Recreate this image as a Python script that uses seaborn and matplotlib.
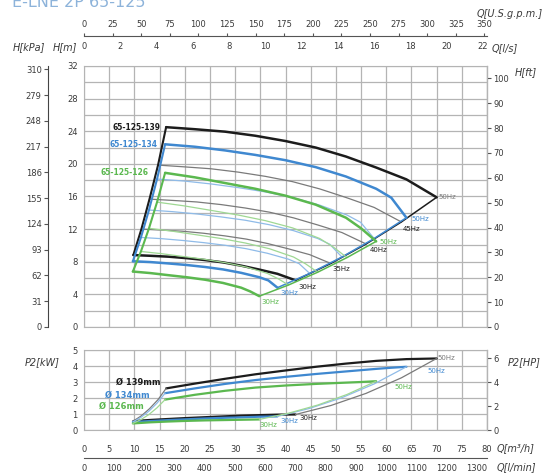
import matplotlib
matplotlib.use("Agg")
import matplotlib.pyplot as plt
from matplotlib.ticker import MultipleLocator
import seaborn as sns

speeds = ["50Hz", "45Hz", "40Hz", "35Hz", "30Hz"]

# H-Q curves, one row per speed (50, 45, 40, 35, 30 Hz), Q in m3/h, H in m
q139 = [[16.3, 22, 28, 34, 40, 46, 52, 58, 64, 70],
        [14.7, 19.8, 25.2, 30.6, 36, 41.4, 46.8, 52.2, 57.6, 63],
        [13.0, 17.6, 22.4, 27.2, 32, 36.8, 41.6, 46.4, 51.2, 56],
        [11.4, 15.4, 19.6, 23.8, 28, 32.2, 36.4, 40.6, 44.8, 49],
        [9.8, 13.2, 16.8, 20.4, 24, 27.6, 31.2, 34.8, 38.4, 42]]
h139 = [[24.5, 24.25, 23.95, 23.45, 22.8, 22.0, 20.9, 19.55, 18.1, 15.9],
        [19.85, 19.64, 19.40, 18.99, 18.47, 17.82, 16.93, 15.84, 14.66, 12.88],
        [15.68, 15.52, 15.33, 15.01, 14.59, 14.08, 13.38, 12.51, 11.58, 10.18],
        [12.01, 11.88, 11.74, 11.49, 11.17, 10.78, 10.24, 9.58, 8.87, 7.79],
        [8.82, 8.73, 8.62, 8.44, 8.21, 7.92, 7.52, 7.04, 6.52, 5.72]]

q134 = [[16.1, 22, 28, 34, 40, 46, 52, 58, 61, 64],
        [14.5, 19.8, 25.2, 30.6, 36, 41.4, 46.8, 52.2, 54.9, 57.6],
        [12.9, 17.6, 22.4, 27.2, 32, 36.8, 41.6, 46.4, 48.8, 51.2],
        [11.3, 15.4, 19.6, 23.8, 28, 32.2, 36.4, 40.6, 42.7, 44.8],
        [9.7, 13.2, 16.8, 20.4, 24, 27.6, 31.2, 34.8, 36.6, 38.4]]
h134 = [[22.4, 22.1, 21.65, 21.1, 20.45, 19.6, 18.45, 16.95, 15.85, 13.4],
        [18.14, 17.90, 17.54, 17.09, 16.56, 15.88, 14.94, 13.73, 12.84, 10.85],
        [14.34, 14.14, 13.86, 13.50, 13.09, 12.54, 11.81, 10.85, 10.14, 8.58],
        [10.98, 10.83, 10.61, 10.34, 10.02, 9.60, 9.04, 8.31, 7.77, 6.57],
        [8.06, 7.96, 7.79, 7.60, 7.36, 7.06, 6.64, 6.10, 5.71, 4.82]]

q126 = [[16.1, 22, 28, 34, 40, 46, 52, 55, 58],
        [14.5, 19.8, 25.2, 30.6, 36, 41.4, 46.8, 49.5, 52.2],
        [12.9, 17.6, 22.4, 27.2, 32, 36.8, 41.6, 44, 46.4],
        [11.3, 15.4, 19.6, 23.8, 28, 32.2, 36.4, 38.5, 40.6],
        [9.7, 13.2, 16.8, 20.4, 24, 27.6, 31.2, 33, 34.8]]
h126 = [[18.9, 18.35, 17.65, 16.95, 16.1, 15.0, 13.4, 12.1, 10.5],
        [15.31, 14.86, 14.30, 13.73, 13.04, 12.15, 10.85, 9.80, 8.51],
        [12.10, 11.74, 11.30, 10.85, 10.30, 9.60, 8.58, 7.74, 6.72],
        [9.26, 8.99, 8.65, 8.31, 7.89, 7.35, 6.57, 5.93, 5.15],
        [6.80, 6.61, 6.35, 6.10, 5.80, 5.40, 4.82, 4.36, 3.78]]

# P2 in kW at 50 Hz and 30 Hz (on the 50 Hz / 30 Hz Q rows above)
p139_50 = [2.6, 2.9, 3.2, 3.48, 3.72, 3.95, 4.15, 4.32, 4.43, 4.47]
p139_30 = [0.56, 0.63, 0.69, 0.75, 0.80, 0.85, 0.90, 0.93, 0.96, 0.97]
p134_50 = [2.3, 2.6, 2.88, 3.12, 3.32, 3.5, 3.66, 3.82, 3.89, 3.95]
p134_30 = [0.50, 0.56, 0.62, 0.67, 0.72, 0.76, 0.79, 0.83, 0.84, 0.85]
p126_50 = [1.9, 2.2, 2.45, 2.65, 2.78, 2.88, 2.96, 3.0, 3.05]
p126_30 = [0.41, 0.48, 0.53, 0.57, 0.60, 0.62, 0.64, 0.65, 0.66]
# P2 at min / max flow of each speed (50 -> 30 Hz)
p139_min = [2.6, 1.90, 1.33, 0.89, 0.56]
p139_max = [4.47, 3.26, 2.29, 1.53, 0.97]
p134_min = [2.3, 1.68, 1.18, 0.79, 0.50]
p134_max = [3.95, 2.88, 2.02, 1.35, 0.85]
p126_min = [1.9, 1.39, 0.97, 0.65, 0.41]
p126_max = [3.05, 2.22, 1.56, 1.05, 0.66]

BLACK, GREY = "#1c1c1c", "#7a7a7a"
BLUE, LBLUE = "#3f88d0", "#8fbbe8"
GREEN, LGREEN = "#5bb84f", "#9fd893"
TXT = "#3a3a3a"

sns.set_style("white")
plt.rcParams["font.family"] = ["DejaVu Sans"]

W, H = 557, 473
fig = plt.figure(figsize=(W / 100, H / 100), dpi=100)


def box(l, t, r, b):
    return [l / W, 1 - b / H, (r - l) / W, (b - t) / H]


def draw(axis, x, y, color, lw):
    sns.lineplot(x=x, y=y, ax=axis, color=color, lw=lw, sort=False,
                 estimator=None, legend=False)


ax = fig.add_axes(box(84, 66, 487, 327))
axp = fig.add_axes(box(84, 350, 487, 430))

pumps = [(q139, h139, p139_50, p139_30, p139_min, p139_max, BLACK, GREY),
         (q134, h134, p134_50, p134_30, p134_min, p134_max, BLUE, LBLUE),
         (q126, h126, p126_50, p126_30, p126_min, p126_max, GREEN, LGREEN)]

for q, h, p50, p30, pmin, pmax, dark, light in pumps:
    for i in range(len(speeds)):
        thick = i in (0, 4)
        draw(ax, q[i], h[i], dark if thick else light, 1.8 if thick else 0.9)
    qmin = [row[0] for row in q]
    qmax = [row[-1] for row in q]
    draw(ax, qmin, [row[0] for row in h], dark, 1.5)
    draw(ax, qmax, [row[-1] for row in h], dark, 1.1)
    draw(axp, q[0], p50, dark, 1.6)
    draw(axp, q[4], p30, dark, 1.6)
    draw(axp, qmin, pmin, light, 0.9)
    draw(axp, qmax, pmax, light, 0.9)

TICK = dict(labelsize=6, labelcolor=TXT, color="#555555", length=3, pad=1.5)

# ---- main H axes
for a in (ax, axp):
    a.set_xlim(0, 80)
    a.xaxis.set_major_locator(MultipleLocator(5))
    a.grid(True, which="both", color="#b4b4b4", lw=0.9)
    a.set_axisbelow(True)
    a.set_xlabel("")
    a.set_ylabel("")
    for s in a.spines.values():
        s.set_color("#b4b4b4")
    a.tick_params(**TICK)

ax.set_ylim(0, 32)
ax.yaxis.set_major_locator(MultipleLocator(4))
ax.yaxis.set_minor_locator(MultipleLocator(2))
ax.tick_params(axis="x", length=0, labelbottom=False)
ax.tick_params(axis="y", which="minor", length=0)

ft = ax.secondary_yaxis("right", functions=(lambda m: m / 0.3048, lambda f: f * 0.3048))
ft.set_yticks(range(0, 101, 10))
ft.tick_params(**TICK)
ft.spines["right"].set_color("#444444")

kpa = ax.secondary_yaxis(-36 / 403, functions=(lambda m: m * 9.81, lambda p: p / 9.81))
kpa.set_yticks(range(0, 311, 31))
kpa.tick_params(**TICK)
kpa.spines["left"].set_color("#444444")

# ---- power axes
axp.set_ylim(0, 5)
axp.yaxis.set_major_locator(MultipleLocator(1))
axp.tick_params(axis="x", length=0, pad=11)
hp = axp.secondary_yaxis("right", functions=(lambda k: k / 0.7457, lambda x: x * 0.7457))
hp.set_yticks([0, 2, 4, 6])
hp.tick_params(**TICK)
hp.spines["right"].set_color("#444444")

# ---- top flow axes (l/s and US gpm)
axt = fig.add_axes(box(84, 36, 487, 36))
axt.set_xlim(0, 80 / 3.6)
axt.set_yticks([])
for k in ("left", "right", "top"):
    axt.spines[k].set_visible(False)
axt.spines["bottom"].set_color("#555555")
axt.xaxis.set_major_locator(MultipleLocator(2))
axt.xaxis.set_minor_locator(MultipleLocator(1))
axt.tick_params(axis="x", which="both", direction="inout", labelsize=6,
                labelcolor=TXT, color="#555555", length=3, pad=3)
gpm = axt.secondary_xaxis("top", functions=(lambda s: s * 15.85, lambda g: g / 15.85))
gpm.set_xticks(range(0, 351, 25))
gpm.spines["top"].set_visible(False)
gpm.tick_params(labelsize=6, labelcolor=TXT, color="#555555", length=2, pad=3)

# ---- bottom flow axis (l/min)
axb = fig.add_axes(box(84, 458, 487, 458))
axb.set_xlim(0, 80 * 1000 / 60)
axb.set_yticks([])
for k in ("left", "right", "top"):
    axb.spines[k].set_visible(False)
axb.spines["bottom"].set_color("#555555")
axb.xaxis.set_major_locator(MultipleLocator(100))
axb.xaxis.set_minor_locator(MultipleLocator(50))
axb.tick_params(axis="x", which="both", direction="inout", labelsize=6,
                labelcolor=TXT, color="#555555", length=3, pad=3)

# ---- curve labels
lab = dict(fontsize=5.5, fontweight="bold", ha="right", va="center")
ax.text(15.1, 24.5, "65-125-139", color=BLACK, **lab)
ax.text(14.5, 22.4, "65-125-134", color=BLUE, **lab)
ax.text(12.9, 18.9, "65-125-126", color=GREEN, **lab)

hz = dict(fontsize=5, ha="left", va="center")
ax.text(70.4, 15.9, "50Hz", color=GREY, **hz)
ax.text(65.1, 13.2, "50Hz", color=BLUE, **hz)
ax.text(63.3, 12.0, "45Hz", color=BLACK, **hz)
ax.text(58.7, 10.4, "50Hz", color=GREEN, **hz)
ax.text(56.7, 9.4, "40Hz", color=BLACK, **hz)
ax.text(49.4, 7.1, "35Hz", color=BLACK, **hz)
ax.text(42.5, 4.9, "30Hz", color=BLACK, **hz)
ax.text(38.9, 4.2, "30Hz", color=BLUE, **hz)
ax.text(35.3, 3.1, "30Hz", color=GREEN, **hz)

dia = dict(fontsize=6, fontweight="bold", ha="right", va="center")
axp.text(15.1, 3.0, "Ø 139mm", color=BLACK, **dia)
axp.text(13.1, 2.2, "Ø 134mm", color=BLUE, **dia)
axp.text(11.9, 1.5, "Ø 126mm", color=GREEN, **dia)
axp.text(70.2, 4.47, "50Hz", color=GREY, **hz)
axp.text(68.1, 3.7, "50Hz", color=BLUE, **hz)
axp.text(61.7, 2.7, "50Hz", color=GREEN, **hz)
axp.text(42.7, 0.75, "30Hz", color=BLACK, **hz)
axp.text(38.9, 0.55, "30Hz", color=BLUE, **hz)
axp.text(34.9, 0.3, "30Hz", color=GREEN, **hz)

# ---- axis names
name = dict(fontsize=7, style="italic", color=TXT, va="center")
fig.text(13 / W, 1 - 47 / H, "H[kPa]", **name)
fig.text(53 / W, 1 - 47 / H, "H[m]", **name)
fig.text(515 / W, 1 - 72 / H, "H[ft]", **name)
fig.text(492 / W, 1 - 48 / H, "Q[l/s]", **name)
fig.text(477 / W, 1 - 14 / H, "Q[U.S.g.p.m.]", **name)
fig.text(25 / W, 1 - 362 / H, "P2[kW]", **name)
fig.text(508 / W, 1 - 362 / H, "P2[HP]", **name)
fig.text(497 / W, 1 - 448 / H, "Q[m³/h]", **name)
fig.text(497 / W, 1 - 467 / H, "Q[l/min]", **name)

fig.text(12 / W, 1 - 7 / H, "E-LNE 2P 65-125", fontsize=11.5, color="#8db3da",
         va="baseline")

fig.savefig("out.png", dpi=100)
